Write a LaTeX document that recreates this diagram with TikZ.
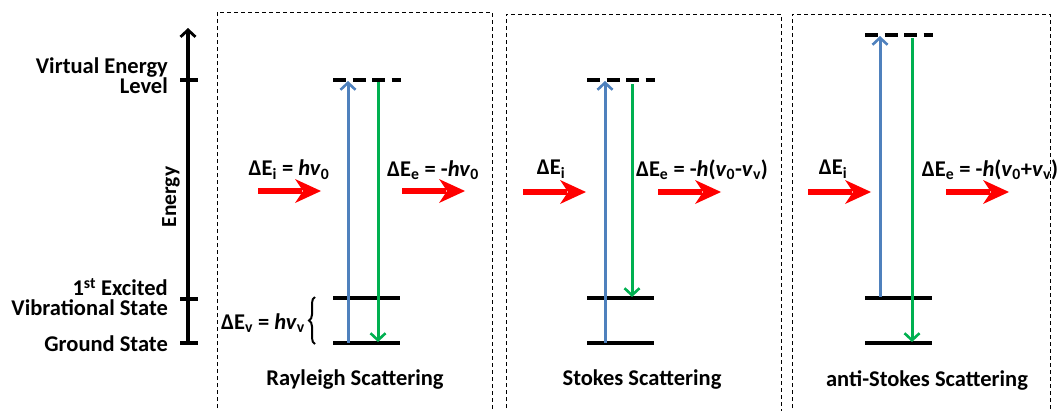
\documentclass[tikz,border=0pt]{standalone}
\usepackage{fontspec}
\setmainfont{Carlito}
\usetikzlibrary{arrows.meta,decorations.pathreplacing}
\definecolor{myblue}{RGB}{79,129,189}
\definecolor{mygreen}{RGB}{0,176,80}
\definecolor{myred}{RGB}{255,0,0}
\begin{document}
\begin{tikzpicture}[x=1pt,y=-1pt,
  lvl/.style={line width=3.5pt},
  virt/.style={line width=3.5pt, dash pattern=on 13pt off 6.5pt},
  upar/.style={draw=myblue, line width=3pt, -{Straight Barb[length=7pt,width=15pt,line width=2.6pt]}},
  dnar/.style={draw=mygreen, line width=3pt, -{Straight Barb[length=7pt,width=15pt,line width=2.6pt]}},
  lbl/.style={font=\fontsize{22.5}{20}\selectfont\bfseries, inner sep=0pt},
  box/.style={draw, line width=0.8pt, dash pattern=on 4pt off 3pt},
  photon/.pic={
    \fill[myred] (0,-2.8) -- (44,-2.8) -- (44,2.8) -- (0,2.8) -- cycle;
    \fill[myred] (37,-12) -- (63,0) -- (37,12) -- (45,0) -- cycle;
  }
]
\useasboundingbox (0,0) rectangle (1059,410);

% dashed boxes
\draw[box] (217,415) |- (492,12) -- (492,415);
\draw[box] (506,415) |- (781,14) -- (781,415);
\draw[box] (792,415) |- (1050,14) -- (1050,415);

% energy axis
\coordinate (axB) at (188,343);
\coordinate (axT) at (188,28);
\draw[line width=3.2pt, -{Straight Barb[length=7pt,width=15pt,line width=2.8pt]}] (axB) -- (axT);
\draw[lvl] (180,80) -- (198,80);
\draw[lvl] (180,299) -- (198,299);
\draw[lvl] (180,343) -- (198,343);
\node[lbl, anchor=east, align=right] (lv) at (168,76) {Virtual Energy\\Level};
\node[lbl, anchor=east, align=right] (le) at (168,297) {1\textsuperscript{st} Excited\\Vibrational State};
\node[lbl, anchor=east] (lg) at (168,344) {Ground State};
\node[font=\fontsize{21.5}{22}\selectfont\bfseries, rotate=90, inner sep=0pt] (en) at (171,197) {Energy};

% ---------- Rayleigh ----------
\draw[virt] (333,80) -- (401,80);
\draw[lvl] (333,298) -- (400,298);
\draw[lvl] (333,343) -- (400,343);
\coordinate (r1) at (348,343);
\coordinate (r2) at (348,81);
\coordinate (r3) at (378,82);
\coordinate (r4) at (378,342);
\draw[upar] (r1) -- (r2);
\draw[dnar] (r3) -- (r4);
\node[lbl] (rEi) at (289,170) {ΔE\textsubscript{i} = \textit{hv}\textsubscript{0}};
\node[lbl] (rEe) at (433,170) {ΔE\textsubscript{e} = -\textit{hv}\textsubscript{0}};
\pic at (258,191) {photon};
\pic at (402,191) {photon};
\coordinate (bA) at (315,344);
\coordinate (bB) at (315,297);
\draw[line width=2pt, decorate, decoration={brace, amplitude=6pt}] (bA) -- (bB);
\node[lbl] (rEv) at (263,323) {ΔE\textsubscript{v} = \textit{hv}\textsubscript{v}};
\node[lbl] (rt) at (355,380) {Rayleigh Scattering};

% ---------- Stokes ----------
\draw[virt] (587,80) -- (655,80);
\draw[lvl] (587,298) -- (654,298);
\draw[lvl] (587,343) -- (654,343);
\coordinate (s1) at (605,343);
\coordinate (s2) at (605,81);
\coordinate (s3) at (632,84);
\coordinate (s4) at (632,297);
\draw[upar] (s1) -- (s2);
\draw[dnar] (s3) -- (s4);
\node[lbl] (sEi) at (551,169) {ΔE\textsubscript{i}};
\node[lbl] (sEe) at (702,170) {ΔE\textsubscript{e} = -\textit{h}(\textit{v}\textsubscript{0}-\textit{v}\textsubscript{v})};
\pic at (523,192) {photon};
\pic at (658,192) {photon};
\node[lbl] (st) at (642,380) {Stokes Scattering};

% ---------- anti-Stokes ----------
\draw[virt] (865,35) -- (933,35);
\draw[lvl] (865,298) -- (932,298);
\draw[lvl] (865,343) -- (932,343);
\coordinate (a1) at (880,297);
\coordinate (a2) at (880,36);
\coordinate (a3) at (912,38);
\coordinate (a4) at (912,342);
\draw[upar] (a1) -- (a2);
\draw[dnar] (a3) -- (a4);
\node[lbl] (aEi) at (833,169) {ΔE\textsubscript{i}};
\node[lbl] (aEe) at (990,170) {ΔE\textsubscript{e} = -\textit{h}(\textit{v}\textsubscript{0}+\textit{v}\textsubscript{v})};
\pic at (808,192) {photon};
\pic at (946,192) {photon};
\node[lbl] (at) at (927,380) {anti-Stokes Scattering};
\end{tikzpicture}
\end{document}
